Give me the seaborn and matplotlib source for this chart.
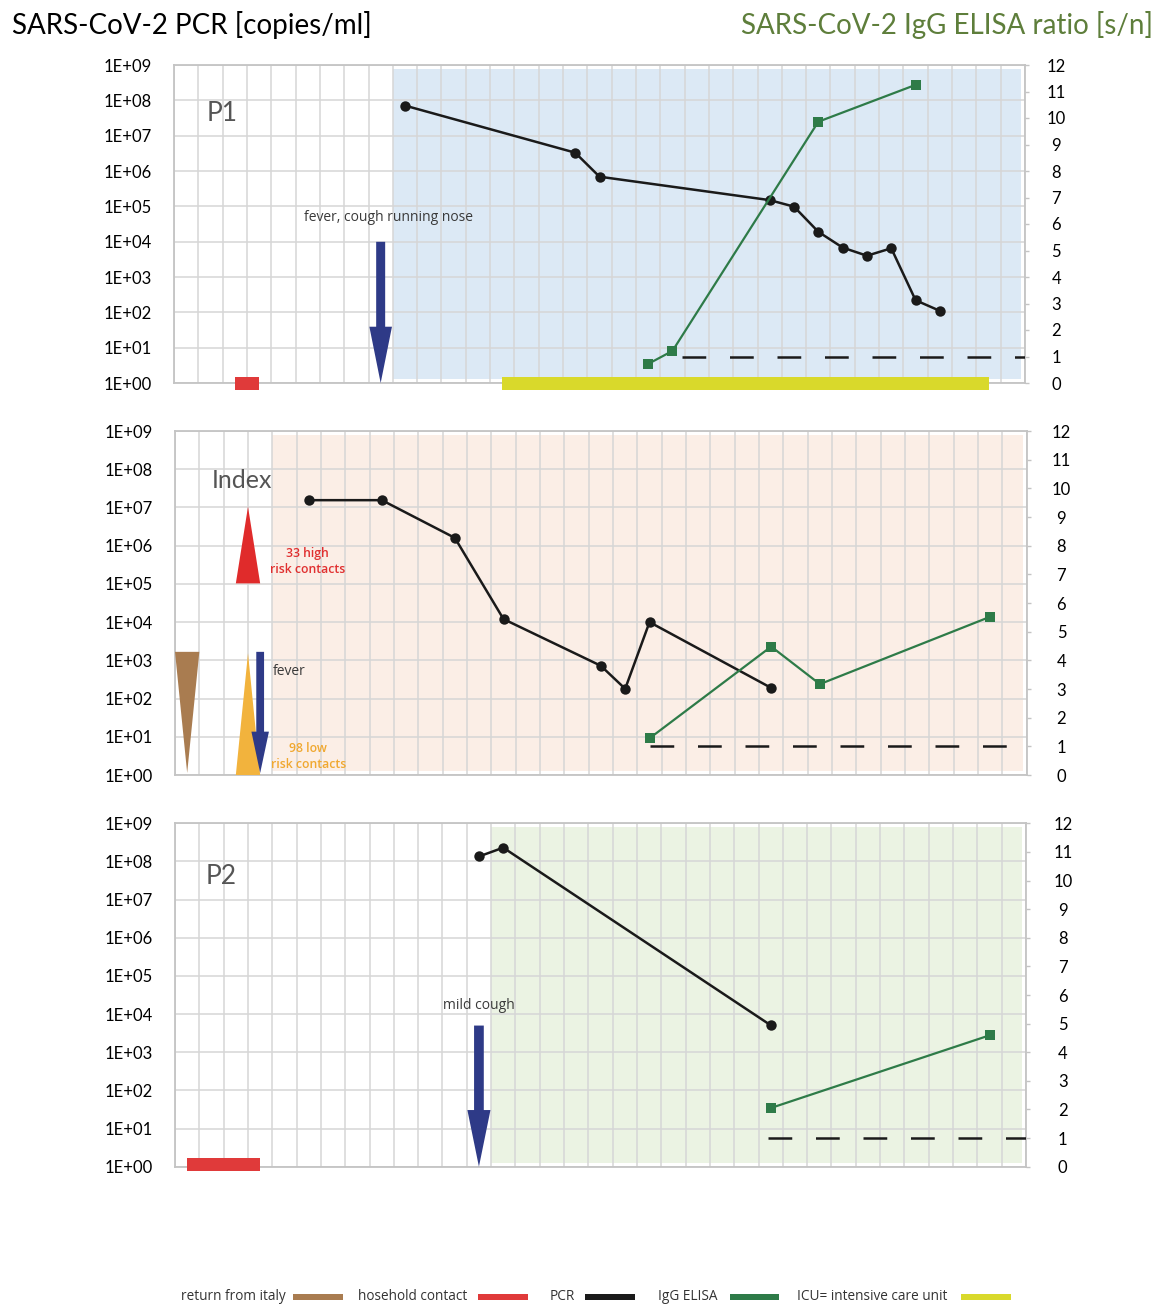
import numpy as np
import matplotlib
matplotlib.use("Agg")
import matplotlib.pyplot as plt
import seaborn as sns
from matplotlib.patches import Polygon, Rectangle
from matplotlib.ticker import NullLocator

# ---------------- data ----------------
n_days = 35
pcr_ticks = [10.0 ** k for k in range(10)]
pcr_tick_labels = ["1E+00", "1E+01", "1E+02", "1E+03", "1E+04",
                   "1E+05", "1E+06", "1E+07", "1E+08", "1E+09"]
elisa_ticks = list(range(0, 13))
elisa_cutoff = 1

p1_pcr_day = [9, 16, 17, 24, 25, 26, 27, 28, 29, 30, 31]
p1_pcr_copies = [7.1e7, 3.3e6, 6.9e5, 1.5e5, 9.8e4, 1.9e4, 6.8e3, 4.0e3, 6.5e3, 2.2e2, 1.1e2]
p1_elisa_day = [19, 20, 26, 30]
p1_elisa_ratio = [0.72, 1.21, 9.86, 11.25]

idx_pcr_day = [5, 8, 11, 13, 17, 18, 19, 24]
idx_pcr_copies = [1.55e7, 1.55e7, 1.6e6, 1.2e4, 7.2e2, 1.8e2, 1.0e4, 1.9e2]
idx_elisa_day = [19, 24, 26, 33]
idx_elisa_ratio = [1.28, 4.48, 3.17, 5.52]

p2_pcr_day = [12, 13, 24]
p2_pcr_copies = [1.35e8, 2.3e8, 5.1e3]
p2_elisa_day = [24, 33]
p2_elisa_ratio = [2.05, 4.59]

# events (days)
p1_household = (2, 3)
p1_icu = (13, 33)
p1_onset = 8
p1_shade_from = 8.5
p1_cutoff_from = 20.4
idx_return = 0
idx_contacts = 2.5
idx_onset = 3
idx_shade_from = 3.5
idx_cutoff_from = 19
p2_household = (0, 3)
p2_onset = 12
p2_shade_from = 12.5
p2_cutoff_from = 23.9

legend_labels = ["return from italy", "hosehold contact", "PCR", "IgG ELISA",
                 "ICU= intensive care unit"]

# ---------------- style ----------------
BLACK = "#1a1a1a"
GREEN = "#2e7b48"
RED = "#e03a3a"
BROWN = "#a97c50"
YELLOW = "#d9d92b"
ORANGE = "#f2b33d"
NAVY = "#2e3a87"
GRID = "#d6d6d6"
SPINE = "#c4c4c4"

sns.set_theme(style="white")
plt.rcParams["font.family"] = ["Lato", "DejaVu Sans"]

W, H = 1159, 1307
fig = plt.figure(figsize=(W / 100, H / 100), dpi=100)


def px_axes(left, right, top, bottom):
    return fig.add_axes([left / W, 1 - bottom / H, (right - left) / W, (bottom - top) / H])


def setup(ax, shade_from, shade_color, right_pad):
    ax.set_xlim(-0.5, n_days - 0.5)
    ax.set_xticks(np.arange(-0.5, n_days, 1))
    ax.set_xticklabels([])
    ax.tick_params(axis="x", length=0)
    ax.set_yscale("log")
    ax.set_ylim(1, 1e9)
    ax.set_yticks(pcr_ticks)
    ax.set_yticklabels(pcr_tick_labels)
    ax.yaxis.set_minor_locator(NullLocator())
    ax.tick_params(axis="y", length=0, pad=16, labelsize=12, labelcolor="black")
    for lab in ax.get_yticklabels():
        lab.set_verticalalignment("center_baseline")
    ax.set_axisbelow(True)
    ax.grid(True, which="major", color=GRID, lw=1.1)
    for s in ax.spines.values():
        s.set_color(SPINE)
        s.set_linewidth(1.3)
    ax.axvspan(shade_from, n_days - 0.65, ymin=0.012, ymax=0.988,
               color=shade_color, lw=0, zorder=0.1)
    tw = ax.twinx()
    tw.set_ylim(0, 12)
    tw.set_yticks(elisa_ticks)
    tw.tick_params(axis="y", direction="out", length=3, width=1, color=SPINE,
                   pad=right_pad, labelsize=12, labelcolor="black")
    for lab in tw.get_yticklabels():
        lab.set_horizontalalignment("center")
        lab.set_verticalalignment("center_baseline")
    for s in tw.spines.values():
        s.set_visible(False)
    tw.grid(False)
    tw.set_ylabel("")
    return tw


def draw_series(ax, tw, pday, pcopies, eday, eratio, cut_from):
    sns.lineplot(x=pday, y=pcopies, ax=ax, color=BLACK, lw=1.8, marker="o",
                 markersize=7.5, markeredgewidth=0, sort=False, estimator=None, zorder=3)
    sns.lineplot(x=eday, y=eratio, ax=tw, color=GREEN, lw=1.6, marker="s",
                 markersize=7, markeredgewidth=0, sort=False, estimator=None, zorder=3)
    tw.hlines(elisa_cutoff, cut_from, n_days - 0.5, colors=BLACK, lw=1.8,
              linestyles=[(0, (9.5, 9.5))], zorder=2)
    ax.set_xlabel("")
    ax.set_ylabel("")
    tw.set_ylabel("")


def down_arrow(ax, x, top, head_top, tip, shaft_w, head_w):
    tr = ax.get_xaxis_transform()
    verts = [(x - shaft_w / 2, top), (x + shaft_w / 2, top), (x + shaft_w / 2, head_top),
             (x + head_w / 2, head_top), (x, tip), (x - head_w / 2, head_top),
             (x - shaft_w / 2, head_top)]
    ax.add_patch(Polygon(verts, closed=True, transform=tr, facecolor=NAVY, lw=0,
                         zorder=4, clip_on=False))


def bar(ax, span, y0, y1, color):
    tr = ax.get_xaxis_transform()
    ax.add_patch(Rectangle((span[0], y0), span[1] - span[0], y1 - y0, transform=tr,
                           facecolor=color, lw=0, zorder=5, clip_on=False))


def tri(ax, x, half_w, base, tip, color):
    tr = ax.get_xaxis_transform()
    ax.add_patch(Polygon([(x - half_w, base), (x + half_w, base), (x, tip)], closed=True,
                         transform=tr, facecolor=color, lw=0, zorder=4, clip_on=False))


ANN = ["Open Sans", "DejaVu Sans"]

# ---------------- P1 ----------------
ax1 = px_axes(174, 1025, 65, 383)
tw1 = setup(ax1, p1_shade_from, "#dce9f5", 19.5)
draw_series(ax1, tw1, p1_pcr_day, p1_pcr_copies, p1_elisa_day, p1_elisa_ratio, p1_cutoff_from)
bar(ax1, p1_household, -0.022, 0.019, RED)
bar(ax1, p1_icu, -0.022, 0.019, YELLOW)
down_arrow(ax1, p1_onset, 0.444, 0.177, 0.0, 0.37, 0.93)
ax1.text(8.33, 0.519, "fever, cough running nose", transform=ax1.get_xaxis_transform(),
         ha="center", va="center", fontsize=10, color="#3a3a3a", family=ANN, zorder=6)
ax1.text(1.46, 0.849, "P1", transform=ax1.get_xaxis_transform(), ha="center",
         va="center", fontsize=19, color="#555555")

# ---------------- Index ----------------
ax2 = px_axes(175, 1026.7, 431, 775)
tw2 = setup(ax2, idx_shade_from, "#fbeee6", 22)
draw_series(ax2, tw2, idx_pcr_day, idx_pcr_copies, idx_elisa_day, idx_elisa_ratio, idx_cutoff_from)
tri(ax2, idx_return, 0.5, 0.358, 0.006, BROWN)
tri(ax2, idx_contacts, 0.5, 0.557, 0.780, "#e02b2b")
tri(ax2, idx_contacts, 0.5, 0.0, 0.354, ORANGE)
down_arrow(ax2, idx_onset, 0.358, 0.126, 0.006, 0.32, 0.72)
xt2 = ax2.get_xaxis_transform()
ax2.text(idx_onset + 0.54, 0.302, "fever", transform=xt2, ha="left", va="center",
         fontsize=10, color="#3a3a3a", family=ANN)
ax2.text(4.95, 0.622, "33 high\nrisk contacts", transform=xt2, ha="center", va="center",
         fontsize=8.8, color="#e03030", family=ANN, fontweight="semibold", linespacing=1.3)
ax2.text(4.98, 0.053, "98 low\nrisk contacts", transform=xt2, ha="center", va="center",
         fontsize=8.8, color="#f0a830", family=ANN, fontweight="semibold", linespacing=1.3)
ax2.text(2.25, 0.855, "Index", transform=xt2, ha="center", va="center",
         fontsize=18, color="#555555")

# ---------------- P2 ----------------
ax3 = px_axes(175, 1026, 823.3, 1166.7)
tw3 = setup(ax3, p2_shade_from, "#ebf3e3", 23.5)
draw_series(ax3, tw3, p2_pcr_day, p2_pcr_copies, p2_elisa_day, p2_elisa_ratio, p2_cutoff_from)
bar(ax3, p2_household, -0.0125, 0.026, RED)
down_arrow(ax3, p2_onset, 0.411, 0.165, 0.0, 0.40, 0.95)
xt3 = ax3.get_xaxis_transform()
ax3.text(p2_onset, 0.469, "mild cough", transform=xt3, ha="center", va="center",
         fontsize=10, color="#3a3a3a", family=ANN, zorder=6)
ax3.text(1.42, 0.845, "P2", transform=xt3, ha="center", va="center",
         fontsize=19, color="#555555")

# ---------------- titles ----------------
fig.text(12 / W, 1 - 25 / H, "SARS-CoV-2 PCR [copies/ml]", ha="left", va="center",
         fontsize=20, color="black")
fig.text(1153 / W, 1 - 25 / H, "SARS-CoV-2 IgG ELISA ratio [s/n]", ha="right",
         va="center", fontsize=20, color="#5e7e3b")

# ---------------- legend ----------------
leg_colors = [BROWN, RED, BLACK, GREEN, YELLOW]
leg_text_x = [181, 358, 550, 658, 797]
leg_sw_x = [(293, 343), (478, 528), (585, 635), (730, 779), (961, 1011)]
ly = 1297
for lab, col, tx, (s0, s1) in zip(legend_labels, leg_colors, leg_text_x, leg_sw_x):
    fig.text(tx / W, 1 - ly / H, lab, ha="left", va="center", fontsize=9.8,
             color="#333333", family=ANN)
    fig.add_artist(Rectangle((s0 / W, 1 - (ly + 3) / H), (s1 - s0) / W, 6 / H,
                             transform=fig.transFigure, facecolor=col, lw=0))

fig.savefig("out.png", dpi=100)
